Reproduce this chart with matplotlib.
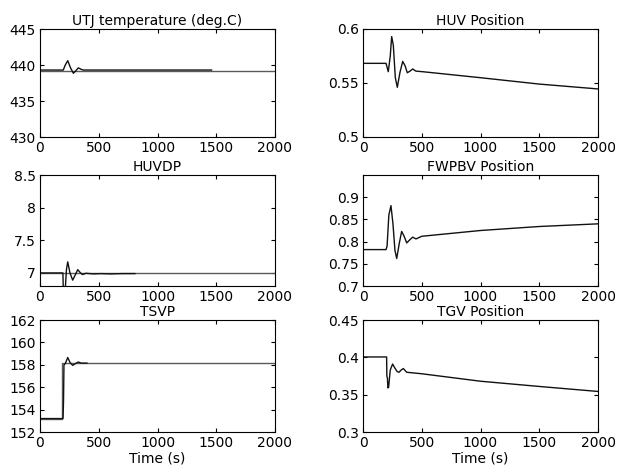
import numpy as np
import matplotlib.pyplot as plt

plt.rcParams['font.family'] = ['DejaVu Sans']
plt.rcParams['font.size'] = 10

# UTJ temperature: reference (gray) and response (black)
utj_ref_t = [0, 2000]
utj_ref_v = [439.2, 439.2]
utj_t = [0, 198, 215, 236, 260, 284, 305, 326, 350, 369, 1460]
utj_v = [439.3, 439.3, 440.0, 440.6, 439.6, 438.85, 439.2, 439.6, 439.4, 439.3, 439.3]

# HUV position
huv_t = [0, 196, 215, 232, 244, 258, 275, 292, 315, 338, 358, 377, 400, 423, 450, 513, 1000, 1500, 2000]
huv_v = [0.5682, 0.5682, 0.5605, 0.575, 0.593, 0.585, 0.555, 0.546, 0.560, 0.570, 0.566, 0.5595, 0.561, 0.563, 0.561, 0.5604, 0.5549, 0.549, 0.5445]

# HUVDP
huvdp_ref_t = [0, 2000]
huvdp_ref_v = [7.0, 7.0]
huvdp_t = [0, 195, 200, 210, 225, 236, 255, 278, 300, 321, 345, 363, 390, 420, 460, 520, 600, 700, 808]
huvdp_v = [7.0, 7.0, 6.6, 6.6, 7.05, 7.17, 7.0, 6.89, 6.97, 7.05, 7.0, 6.975, 6.995, 6.99, 6.985, 6.99, 6.985, 6.99, 6.99]

# FWPBV position
fwp_t = [0, 196, 205, 220, 238, 255, 272, 287, 308, 329, 350, 372, 398, 423, 451, 500, 1000, 1500, 2000]
fwp_v = [0.782, 0.782, 0.79, 0.86, 0.881, 0.84, 0.78, 0.762, 0.795, 0.823, 0.812, 0.797, 0.804, 0.810, 0.806, 0.812, 0.825, 0.834, 0.840]

# TSVP: reference step (gray) and response (black)
tsvp_ref_t = [0, 190, 190, 2000]
tsvp_ref_v = [153.2, 153.2, 158.15, 158.15]
tsvp_t = [0, 196, 200, 204, 215, 236, 256, 278, 300, 326, 350, 400]
tsvp_v = [153.2, 153.2, 154.7, 158.0, 158.1, 158.65, 158.2, 157.95, 158.1, 158.25, 158.15, 158.15]

# TGV position
tgv_t = [0, 201, 203, 208, 212, 218, 232, 252, 270, 290, 306, 325, 343, 372, 500, 1000, 1500, 2000]
tgv_v = [0.4005, 0.4005, 0.375, 0.372, 0.359, 0.36, 0.383, 0.391, 0.386, 0.381, 0.380, 0.383, 0.385, 0.380, 0.378, 0.368, 0.361, 0.3543]

titles = ['UTJ temperature (deg.C)', 'HUV Position', 'HUVDP', 'FWPBV Position', 'TSVP', 'TGV Position']
ylims = [(430, 445), (0.5, 0.6), (6.8, 8.5), (0.7, 0.95), (152, 162), (0.3, 0.45)]
yticks = [[430, 435, 440, 445], [0.5, 0.55, 0.6], [7, 7.5, 8, 8.5],
          [0.7, 0.75, 0.8, 0.85, 0.9], [152, 154, 156, 158, 160, 162], [0.3, 0.35, 0.4, 0.45]]
yticklabels = [['430', '435', '440', '445'], ['0.5', '0.55', '0.6'], ['7', '7.5', '8', '8.5'],
               ['0.7', '0.75', '0.8', '0.85', '0.9'], ['152', '154', '156', '158', '160', '162'],
               ['0.3', '0.35', '0.4', '0.45']]
xticks = [0, 500, 1000, 1500, 2000]

fig = plt.figure(figsize=(6.17, 4.69), dpi=100)

W, H = 617.0, 469.0
lefts = [40, 363]
rows = [(29, 137), (175, 286), (320, 432)]   # top, bottom in pixels
axes = []
for r, (top, bot) in enumerate(rows):
    for c, lx in enumerate(lefts):
        ax = fig.add_axes([lx / W, 1 - bot / H, 235 / W, (bot - top) / H])
        axes.append(ax)

gray = '#5a5a5a'
dark = '#111111'

axes[0].plot(utj_ref_t, utj_ref_v, color=gray, lw=1.0)
axes[0].plot(utj_t, utj_v, color=dark, lw=1.0)
axes[1].plot(huv_t, huv_v, color=dark, lw=1.0)
axes[2].plot(huvdp_ref_t, huvdp_ref_v, color=gray, lw=1.0)
axes[2].plot(huvdp_t, huvdp_v, color=dark, lw=1.0)
axes[3].plot(fwp_t, fwp_v, color=dark, lw=1.0)
axes[4].plot(tsvp_ref_t, tsvp_ref_v, color=gray, lw=1.0)
axes[4].plot(tsvp_t, tsvp_v, color=dark, lw=1.0)
axes[5].plot(tgv_t, tgv_v, color=dark, lw=1.0)

for i, ax in enumerate(axes):
    ax.set_xlim(0, 2000)
    ax.set_ylim(*ylims[i])
    ax.set_xticks(xticks)
    ax.set_xticklabels([str(x) for x in xticks])
    ax.set_yticks(yticks[i])
    ax.set_yticklabels(yticklabels[i])
    ax.tick_params(direction='in', length=3, width=0.8, top=True, right=True, pad=3)
    ax.set_title(titles[i], fontsize=10, pad=3)
    for sp in ax.spines.values():
        sp.set_linewidth(0.8)
    if i >= 4:
        ax.set_xlabel('Time (s)', labelpad=1)

fig.savefig('out.png', dpi=100)
